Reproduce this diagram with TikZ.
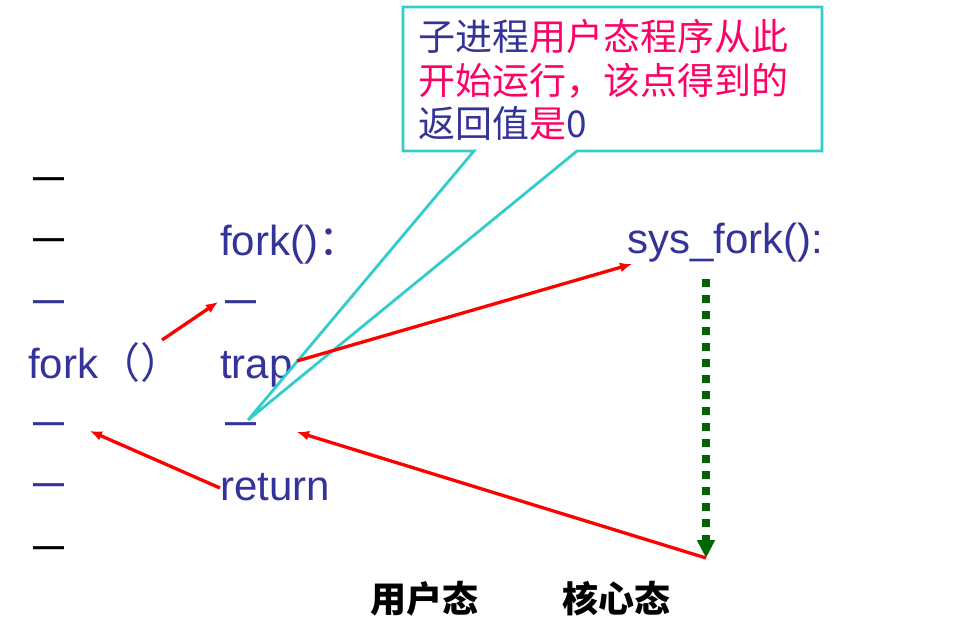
\documentclass[tikz,border=0pt]{standalone}
\usepackage{fontspec}
\setmainfont{Liberation Sans}
\newfontfamily\cjk{Noto Sans CJK SC}
\usetikzlibrary{arrows.meta}
\definecolor{tblue}{HTML}{333399}
\definecolor{tpink}{HTML}{FF0066}
\definecolor{tcyan}{HTML}{33CCCC}
\definecolor{tgreen}{HTML}{006600}
\begin{document}
\begin{tikzpicture}[x=1pt,y=-1pt,
  code/.style={font=\fontsize{42}{48}\selectfont, text=tblue, inner sep=0pt, anchor=base west},
  dashmark/.style={font=\bfseries\fontsize{31}{36}\selectfont, inner sep=0pt, anchor=base west},
  noteline/.style={font=\cjk\fontsize{37}{43}\selectfont, inner sep=0pt, anchor=base west},
  modelabel/.style={font=\cjk\bfseries\fontsize{36}{40}\selectfont, inner sep=0pt, anchor=base west, text=black},
  redarrow/.style={draw=red, line width=3.3pt, -{Latex[length=12pt,width=10pt]}},
  callout/.style={draw=tcyan, line width=2.8pt, fill=white, line join=miter},
  dotarrow/.style={draw=tgreen, line width=8pt, dash pattern=on 8pt off 8pt, -{Triangle[length=18pt,width=17pt]}}]
\useasboundingbox[fill=white] (0,0) rectangle (953,642);

% left column
\node[dashmark, text=black] (l1) at (33,187) {—};
\node[dashmark, text=black] (l2) at (33,248) {—};
\node[dashmark, text=tblue] (l3) at (33,310) {—};
\node[code] (forkcall) at (28,378) {fork{\cjk （）}};
\node[dashmark, text=tblue] (l5) at (33,432) {—};
\node[dashmark, text=tblue] (l6) at (33,493) {—};
\node[dashmark, text=black] (l7) at (33,556) {—};

% middle column
\node[code] (forkdef) at (220,255) {fork(){\cjk ：}};
\node[dashmark, text=tblue] (m1) at (225,310) {—};
\node[code] (trap) at (220,378) {trap};
\node[dashmark, text=tblue] (m2) at (225,432) {—};
\node[code] (ret) at (220,500) {return};

% right column
\node[code] (sysfork) at (627,253) {sys\_fork():};

% callout
\coordinate (tip) at (248,420);
\draw[callout] (403,7) -- (822,7) -- (822,151) -- (577,151) -- (tip) -- (474,151) -- (403,151) -- cycle;
\node[noteline] (n1) at (418,51) {\textcolor{tblue}{子进程}\textcolor{tpink}{用户态程序从此}};
\node[noteline] (n2) at (418,94) {\textcolor{tpink}{开始运行，该点得到的}};
\node[noteline] (n3) at (418,137) {\textcolor{tblue}{返回值}\textcolor{tpink}{是}\textcolor{tblue}{0}};

% bottom labels
\node[modelabel] (user) at (370,612) {用户态};
\node[modelabel] (kernel) at (562,612) {核心态};

% connectors
\coordinate (a1s) at (162,340);
\coordinate (a1e) at (218,302);
\coordinate (a2s) at (297,361);
\coordinate (a2e) at (632,264);
\coordinate (a3s) at (220,488);
\coordinate (a3e) at (90,431);
\coordinate (g1) at (706,279);
\coordinate (g2) at (706,558);
\coordinate (a4e) at (297,432);

\draw[dotarrow] (g1) -- (g2);
\draw[redarrow] (a1s) -- (a1e);
\draw[redarrow] (a2s) -- (a2e);
\draw[redarrow] (a3s) -- (a3e);
\draw[redarrow] (g2) -- (a4e);
\end{tikzpicture}
\end{document}
